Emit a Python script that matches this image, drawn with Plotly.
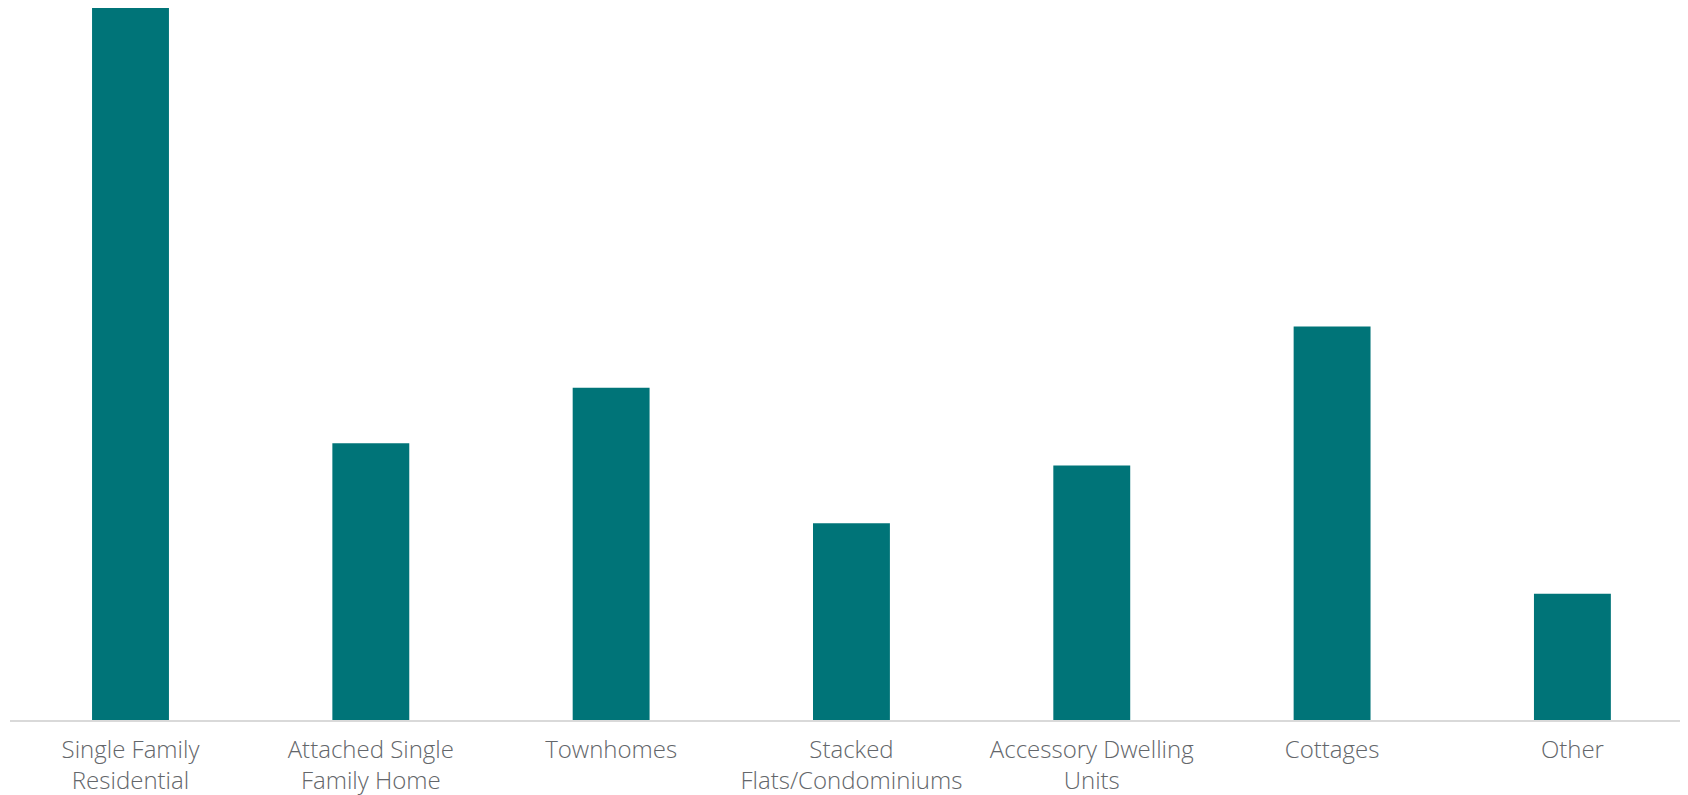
import plotly.graph_objects as go

categories = [
    "Single Family<br>Residential",
    "Attached Single<br>Family Home",
    "Townhomes",
    "Stacked<br>Flats/Condominiums",
    "Accessory Dwelling<br>Units",
    "Cottages",
    "Other",
]
values = [100, 38.8, 46.6, 27.6, 35.7, 55.2, 17.7]

fig = go.Figure(
    go.Bar(
        x=list(range(len(categories))),
        y=values,
        width=0.32,
        marker=dict(color="#007478", line=dict(width=0)),
        hoverinfo="skip",
        cliponaxis=False,
    )
)

fig.update_layout(
    width=1680,
    height=787,
    margin=dict(l=2, r=0, t=0, b=75),
    plot_bgcolor="white",
    paper_bgcolor="white",
    showlegend=False,
    font=dict(family="Open Sans, sans-serif", size=24, color="#63666a", weight=300),
)
fig.update_xaxes(
    range=[-0.5014, 6.481],
    tickmode="array",
    tickvals=list(range(len(categories))),
    ticktext=categories,
    showgrid=False,
    zeroline=False,
    showline=True,
    linecolor="#d9d9d9",
    linewidth=1.5,
    ticks="",
    ticklabelstandoff=7,
)
fig.update_yaxes(
    range=[0, 99.86],
    visible=False,
    showgrid=False,
    zeroline=False,
)

fig.write_html("out.html")
